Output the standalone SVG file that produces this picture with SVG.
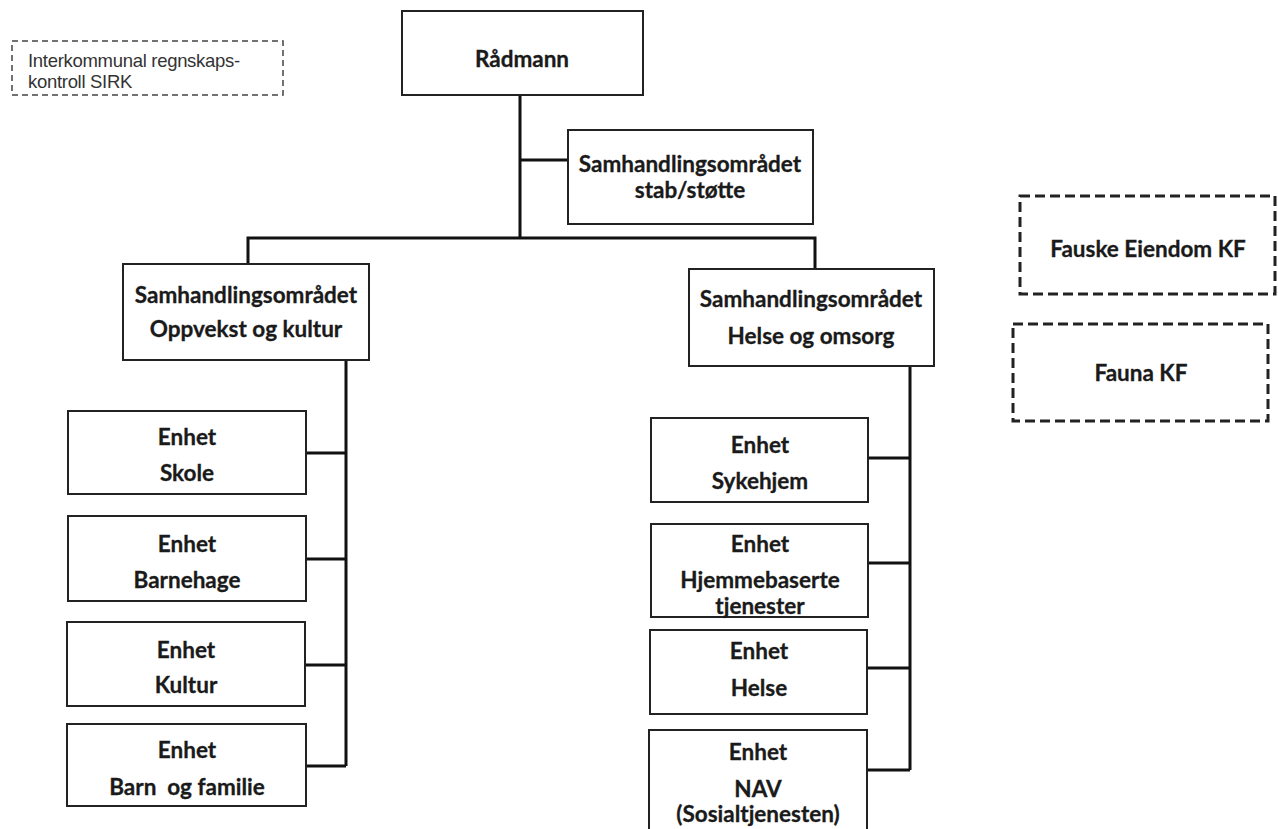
<svg xmlns="http://www.w3.org/2000/svg" width="1278" height="829" viewBox="0 0 1278 829">
<style>
.box{fill:#fff;stroke:#222;stroke-width:2}
.dash{fill:#fff;stroke:#222;stroke-width:3;stroke-dasharray:10 5}
.dashs{fill:#fff;stroke:#444;stroke-width:1.5;stroke-dasharray:6 4}
.t{font-family:Lato,"Open Sans","Liberation Sans",sans-serif;font-weight:bold;font-size:22.5px;fill:#1a1a1a;stroke:#1a1a1a;stroke-width:0.3;text-anchor:middle;white-space:pre}
.s{font-family:"Liberation Sans",Arial,sans-serif;font-size:18.5px;letter-spacing:-0.3px;fill:#333}
.c{fill:none;stroke:#111;stroke-width:3}
</style>
<rect width="1278" height="829" fill="#fff"/>
<g id="connectors">
<path class="c" d="M520 95V238M520 160H568M248 266V238H815V270M346 360V766M306 453H346M306 559H346M306 665H346M306 766H346M910 366V770M868 458H910M868 563H910M868 668H910M868 770H910"/>
</g>
<g id="sirk"><rect class="dashs" x="12" y="41" width="271" height="54"/><text class="s" x="28" y="67">Interkommunal regnskaps-</text><text class="s" x="28" y="88">kontroll SIRK</text></g>
<g id="radmann"><rect class="box" x="402" y="11" width="241" height="84"/><text class="t" x="522" y="67">Rådmann</text></g>
<g id="stab"><rect class="box" x="568" y="130" width="245" height="94"/><text class="t" x="690" y="172">Samhandlingsområdet</text><text class="t" x="690" y="198">stab/støtte</text></g>
<g id="oppvekst"><rect class="box" x="123" y="264" width="246" height="96"/><text class="t" x="246" y="303">Samhandlingsområdet</text><text class="t" x="246" y="337">Oppvekst og kultur</text></g>
<g id="helseomsorg"><rect class="box" x="689" y="269" width="245" height="97"/><text class="t" x="811" y="307">Samhandlingsområdet</text><text class="t" x="811" y="344">Helse og omsorg</text></g>
<g id="skole"><rect class="box" x="68" y="411" width="238" height="83"/><text class="t" x="187" y="445">Enhet</text><text class="t" x="187" y="481">Skole</text></g>
<g id="barnehage"><rect class="box" x="68" y="516" width="238" height="85"/><text class="t" x="187" y="552">Enhet</text><text class="t" x="187" y="588">Barnehage</text></g>
<g id="kultur"><rect class="box" x="67" y="622" width="238" height="84"/><text class="t" x="186" y="658">Enhet</text><text class="t" x="186" y="693">Kultur</text></g>
<g id="barnfamilie"><rect class="box" x="67" y="724" width="239" height="82"/><text class="t" x="187" y="758">Enhet</text><text class="t" x="187" y="795" xml:space="preserve">Barn  og familie</text></g>
<g id="sykehjem"><rect class="box" x="651" y="418" width="217" height="84"/><text class="t" x="760" y="453">Enhet</text><text class="t" x="760" y="489">Sykehjem</text></g>
<g id="hjemmebaserte"><rect class="box" x="651" y="524" width="217" height="93"/><text class="t" x="760" y="552">Enhet</text><text class="t" x="760" y="588">Hjemmebaserte</text><text class="t" x="760" y="614">tjenester</text></g>
<g id="helse"><rect class="box" x="650" y="630" width="217" height="84"/><text class="t" x="759" y="659">Enhet</text><text class="t" x="759" y="696">Helse</text></g>
<g id="nav"><rect class="box" x="649" y="730" width="218" height="104"/><text class="t" x="758" y="760">Enhet</text><text class="t" x="758" y="797">NAV</text><text class="t" x="758" y="822">(Sosialtjenesten)</text></g>
<g id="fauske"><rect class="dash" x="1020" y="196" width="255" height="98"/><text class="t" x="1148" y="257">Fauske Eiendom KF</text></g>
<g id="fauna"><rect class="dash" x="1013" y="324" width="255" height="97"/><text class="t" x="1141" y="381">Fauna KF</text></g>
</svg>
